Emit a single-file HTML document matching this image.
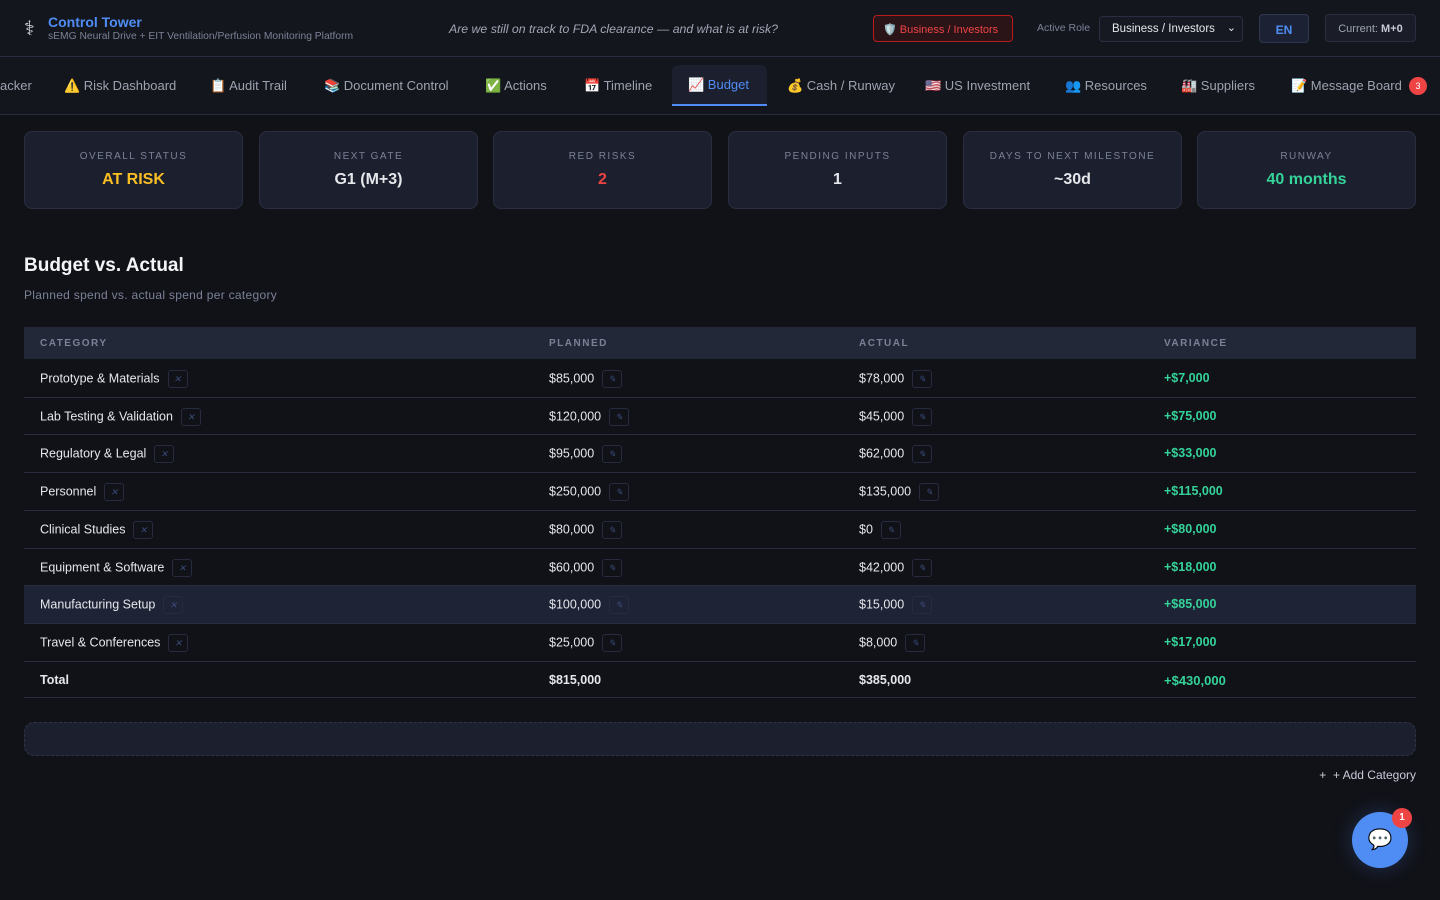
<!DOCTYPE html>
<html><head><meta charset="utf-8"><style>
*{box-sizing:border-box;margin:0;padding:0}
body{width:1440px;height:900px;background:#111218;font-family:"Liberation Sans","Noto Sans CJK SC",sans-serif;color:#e5e7eb;position:relative;overflow:hidden}
.hdr{position:absolute;left:0;top:0;width:1440px;height:57px;border-bottom:1px solid #2a2d3f;background:#14161e}
.abs{position:absolute;white-space:nowrap}
.nav{position:absolute;top:57px;left:0;width:1440px;height:58px;border-bottom:1px solid #2a2d3f;background:#14161e}
.tab{position:absolute;top:28px;font-size:13px;color:#9ca3af}
.card{position:absolute;top:131px;width:219px;height:78px;background:#1c1f2d;border:1px solid #2a2e40;border-radius:8px;text-align:center}
.card .l{margin-top:19px;font-size:10px;letter-spacing:1.5px;color:#7b8196}
.card .v{margin-top:9px;font-size:16px;font-weight:bold;color:#e5e7eb}
.th{position:absolute;left:24px;top:327px;width:1392px;height:32px;background:#232839}
.th span{position:absolute;top:11px;font-size:10px;font-weight:bold;letter-spacing:1.5px;color:#7b8196}
.row{position:absolute;left:24px;width:1392px;border-bottom:1px solid #2a2d3f;font-size:12.5px}
.row span{position:absolute}
.x{display:inline-block;width:20px;height:18px;border:1px solid #262b40;border-radius:3px;font-size:9px;color:#3b4a7a;text-align:center;line-height:16px;vertical-align:middle;margin-left:8px}
.g{color:#34d399;font-weight:bold}
</style></head><body>
<div class="hdr">
<div class="abs" style="left:24px;top:16px;font-size:20px;color:#d1d5db">⚕</div>
<div class="abs" style="left:48px;top:14px;font-size:14px;font-weight:bold;color:#4f8df5">Control Tower</div>
<div class="abs" style="left:48px;top:31px;font-size:10.3px;color:#7b8196">sEMG Neural Drive + EIT Ventilation/Perfusion Monitoring Platform</div>
<div class="abs" style="left:449px;top:22px;font-size:12.3px;font-style:italic;color:#a1a6b5">Are we still on track to FDA clearance — and what is at risk?</div>
<div class="abs" style="left:873px;top:15px;width:140px;height:27px;border:1px solid #b91c1c;border-radius:4px;background:#2a1418;color:#ef4444;font-size:11px;padding:7px 0 0 9px">🛡️ Business / Investors</div>
<div class="abs" style="left:1037px;top:22px;font-size:10.5px;color:#7b8196">Active Role</div>
<div class="abs" style="left:1099px;top:16px;width:144px;height:26px;border:1px solid #2a2e40;border-radius:4px;background:#161922;font-size:11.5px;color:#e5e7eb;padding:6px 0 0 12px">Business / Investors <span style="position:absolute;right:6px;top:4px;font-size:11px">⌄</span></div>
<div class="abs" style="left:1259px;top:14px;width:50px;height:29px;border:1px solid #2f3650;border-radius:4px;background:#1c2233;color:#4f8df5;font-weight:bold;font-size:12px;text-align:center;padding-top:8px">EN</div>
<div class="abs" style="left:1325px;top:14px;width:91px;height:28px;border:1px solid #2a2e40;border-radius:4px;background:#1a1d28;color:#9ca3af;font-size:11px;text-align:center;padding-top:8px">Current: <b style="color:#c7cbd6">M+0</b></div>
</div>
<div class="nav">
<div class="abs" style="left:672px;top:8px;width:95px;height:41px;background:#1c1f2d;border-radius:6px 6px 0 0;border-bottom:2px solid #4f8df5"></div>
<div class="tab" style="left:0;top:21px">acker</div>
<div class="tab" style="left:64px;top:21px">⚠️ Risk Dashboard</div>
<div class="tab" style="left:210px;top:21px">📋 Audit Trail</div>
<div class="tab" style="left:324px;top:21px">📚 Document Control</div>
<div class="tab" style="left:485px;top:21px">✅ Actions</div>
<div class="tab" style="left:584px;top:21px">📅 Timeline</div>
<div class="tab" style="left:688px;top:20px;color:#4f8df5">📈 Budget</div>
<div class="tab" style="left:787px;top:21px">💰 Cash / Runway</div>
<div class="tab" style="left:925px;top:21px">🇺🇸 US Investment</div>
<div class="tab" style="left:1065px;top:21px">👥 Resources</div>
<div class="tab" style="left:1181px;top:21px">🏭 Suppliers</div>
<div class="tab" style="left:1291px;top:21px">📝 Message Board</div>
<div class="abs" style="left:1409px;top:20px;width:18px;height:18px;border-radius:9px;background:#ef4444;color:#fff;font-size:9px;text-align:center;line-height:18px">3</div>
</div>
<div class="card" style="left:24px"><div class="l">OVERALL STATUS</div><div class="v" style="color:#fbbf24">AT RISK</div></div>
<div class="card" style="left:259px"><div class="l">NEXT GATE</div><div class="v">G1 (M+3)</div></div>
<div class="card" style="left:493px"><div class="l">RED RISKS</div><div class="v" style="color:#ef4444">2</div></div>
<div class="card" style="left:728px"><div class="l">PENDING INPUTS</div><div class="v">1</div></div>
<div class="card" style="left:963px"><div class="l">DAYS TO NEXT MILESTONE</div><div class="v">~30d</div></div>
<div class="card" style="left:1197px"><div class="l">RUNWAY</div><div class="v" style="color:#34d399">40 months</div></div>
<div class="abs" style="left:24px;top:255px;font-size:19px;font-weight:bold;color:#f3f4f6">Budget vs. Actual</div>
<div class="abs" style="left:24px;top:288px;font-size:12px;letter-spacing:0.3px;color:#7b8196">Planned spend vs. actual spend per category</div>
<div class="th"><span style="left:16px">CATEGORY</span><span style="left:525px">PLANNED</span><span style="left:835px">ACTUAL</span><span style="left:1140px">VARIANCE</span></div>
<div class="row" style="top:359px;height:39px"><span style="left:16px;top:11px">Prototype &amp; Materials<i class="x">✕</i></span><span style="left:525px;top:11px">$85,000<i class="x">✎</i></span><span style="left:835px;top:11px">$78,000<i class="x">✎</i></span><span class="g" style="left:1140px;top:12px">+$7,000</span></div>
<div class="row" style="top:398px;height:37px"><span style="left:16px;top:10px">Lab Testing &amp; Validation<i class="x">✕</i></span><span style="left:525px;top:10px">$120,000<i class="x">✎</i></span><span style="left:835px;top:10px">$45,000<i class="x">✎</i></span><span class="g" style="left:1140px;top:11px">+$75,000</span></div>
<div class="row" style="top:435px;height:38px"><span style="left:16px;top:10px">Regulatory &amp; Legal<i class="x">✕</i></span><span style="left:525px;top:10px">$95,000<i class="x">✎</i></span><span style="left:835px;top:10px">$62,000<i class="x">✎</i></span><span class="g" style="left:1140px;top:11px">+$33,000</span></div>
<div class="row" style="top:473px;height:38px"><span style="left:16px;top:10px">Personnel<i class="x">✕</i></span><span style="left:525px;top:10px">$250,000<i class="x">✎</i></span><span style="left:835px;top:10px">$135,000<i class="x">✎</i></span><span class="g" style="left:1140px;top:11px">+$115,000</span></div>
<div class="row" style="top:511px;height:38px"><span style="left:16px;top:10px">Clinical Studies<i class="x">✕</i></span><span style="left:525px;top:10px">$80,000<i class="x">✎</i></span><span style="left:835px;top:10px">$0<i class="x">✎</i></span><span class="g" style="left:1140px;top:11px">+$80,000</span></div>
<div class="row" style="top:549px;height:37px"><span style="left:16px;top:10px">Equipment &amp; Software<i class="x">✕</i></span><span style="left:525px;top:10px">$60,000<i class="x">✎</i></span><span style="left:835px;top:10px">$42,000<i class="x">✎</i></span><span class="g" style="left:1140px;top:11px">+$18,000</span></div>
<div class="row" style="top:586px;height:38px;background:#1f2336"><span style="left:16px;top:10px">Manufacturing Setup<i class="x">✕</i></span><span style="left:525px;top:10px">$100,000<i class="x">✎</i></span><span style="left:835px;top:10px">$15,000<i class="x">✎</i></span><span class="g" style="left:1140px;top:11px">+$85,000</span></div>
<div class="row" style="top:624px;height:38px"><span style="left:16px;top:10px">Travel &amp; Conferences<i class="x">✕</i></span><span style="left:525px;top:10px">$25,000<i class="x">✎</i></span><span style="left:835px;top:10px">$8,000<i class="x">✎</i></span><span class="g" style="left:1140px;top:11px">+$17,000</span></div>
<div class="row" style="top:662px;height:36px;font-weight:bold"><span style="left:16px;top:11px">Total</span><span style="left:525px;top:11px">$815,000</span><span style="left:835px;top:11px">$385,000</span><span class="g" style="left:1140px;top:11px;font-size:13px">+$430,000</span></div>
<div class="abs" style="left:24px;top:722px;width:1392px;height:34px;background:#1c1f2d;border:1px dashed #2e3347;border-radius:10px"></div>
<div class="abs" style="right:24px;top:768px;font-size:12px;color:#c7cbd6">+ &nbsp;+ Add Category</div>
<div class="abs" style="left:1352px;top:812px;width:56px;height:56px;border-radius:28px;background:#4f8df5;box-shadow:0 0 20px rgba(79,141,245,.25);text-align:center;line-height:56px;font-size:20px">💬</div>
<div class="abs" style="left:1392px;top:808px;width:20px;height:20px;border-radius:10px;background:#ef4444;color:#fff;font-size:10px;font-weight:bold;text-align:center;line-height:20px">1</div>
</body></html>
